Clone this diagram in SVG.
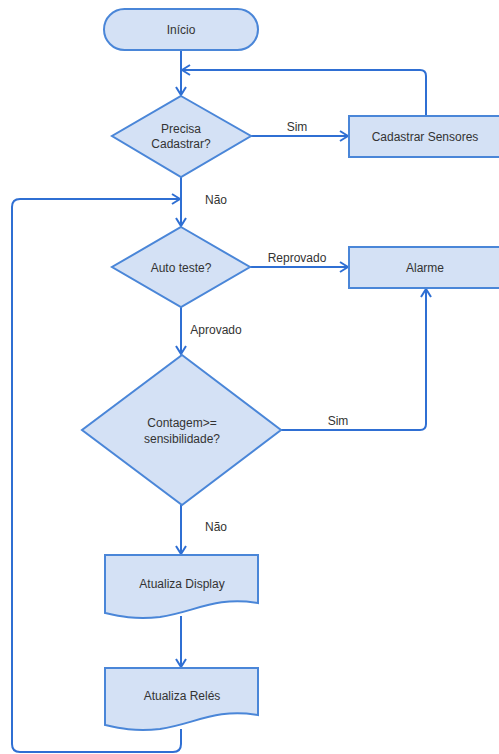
<svg xmlns="http://www.w3.org/2000/svg" width="499" height="754" viewBox="0 0 499 754">
<defs>
<style>
.n{fill:#D4E1F5;stroke:#4A86D8;stroke-width:2}
.c{fill:none;stroke:#2F6FD3;stroke-width:2}
.t{font-family:"Liberation Sans",Arial,sans-serif;font-size:12px;fill:#333;text-anchor:middle}
.l{font-family:"Liberation Sans",Arial,sans-serif;font-size:12px;fill:#333;text-anchor:middle}
</style>
<marker id="a" markerWidth="12" markerHeight="12" viewBox="0 0 12 12" refX="11" refY="6" orient="auto" markerUnits="userSpaceOnUse">
<path d="M3,1 L11,6 L3,11" fill="none" stroke="#2F6FD3" stroke-width="2"/>
</marker>
</defs>
<rect width="499" height="754" fill="#fff"/>
<g id="connectors">
<path class="c" d="M181,50 V95" marker-end="url(#a)"/>
<path class="c" d="M251,136 H348" marker-end="url(#a)"/>
<path class="c" d="M426,116 V76 Q426,70 420,70 H182" marker-end="url(#a)"/>
<path class="c" d="M181,177 V226" marker-end="url(#a)"/>
<path class="c" d="M250,267 H348" marker-end="url(#a)"/>
<path class="c" d="M181,307 V354" marker-end="url(#a)"/>
<path class="c" d="M281,430 H420 Q426,430 426,424 V289" marker-end="url(#a)"/>
<path class="c" d="M181,505 V554" marker-end="url(#a)"/>
<path class="c" d="M181,616 V667" marker-end="url(#a)"/>
<path class="c" d="M181,729 V744 Q181,752 173,752 H20 Q12,752 12,744 V207 Q12,199 20,199 H180" marker-end="url(#a)"/>
<text class="l" x="297" y="131">Sim</text>
<text class="l" x="216" y="204">Não</text>
<text class="l" x="297" y="262">Reprovado</text>
<text class="l" x="216" y="334">Aprovado</text>
<text class="l" x="338" y="425">Sim</text>
<text class="l" x="216" y="531">Não</text>
</g>
<g id="inicio">
<rect class="n" x="104" y="9" width="154" height="41" rx="20.5"/>
<text class="t" x="181" y="34">Início</text>
</g>
<g id="precisa">
<path class="n" d="M181,96 L251,136 L181,177 L112,136 Z"/>
<text class="t" x="181" y="133">Precisa</text>
<text class="t" x="181" y="148">Cadastrar?</text>
</g>
<g id="cadastrar">
<rect class="n" x="349" y="116" width="152" height="41"/>
<text class="t" x="425" y="141">Cadastrar Sensores</text>
</g>
<g id="autoteste">
<path class="n" d="M181,227 L250,267 L181,307 L112,267 Z"/>
<text class="t" x="181" y="272">Auto teste?</text>
</g>
<g id="alarme">
<rect class="n" x="349" y="247" width="152" height="41"/>
<text class="t" x="425" y="272">Alarme</text>
</g>
<g id="contagem">
<path class="n" d="M182,355 L281,430 L182,505 L82,430 Z"/>
<text class="t" x="182" y="427">Contagem&gt;=</text>
<text class="t" x="182" y="443">sensibilidade?</text>
</g>
<g id="display">
<path class="n" d="M105,555 H258 V603 C215,596 195,612 160,617 C135,620 118,616 105,613 Z"/>
<text class="t" x="182" y="588">Atualiza Display</text>
</g>
<g id="reles">
<path class="n" d="M105,668 H258 V715 C215,708 195,724 160,729 C135,732 118,728 105,725 Z"/>
<text class="t" x="182" y="700">Atualiza Relés</text>
</g>
</svg>
